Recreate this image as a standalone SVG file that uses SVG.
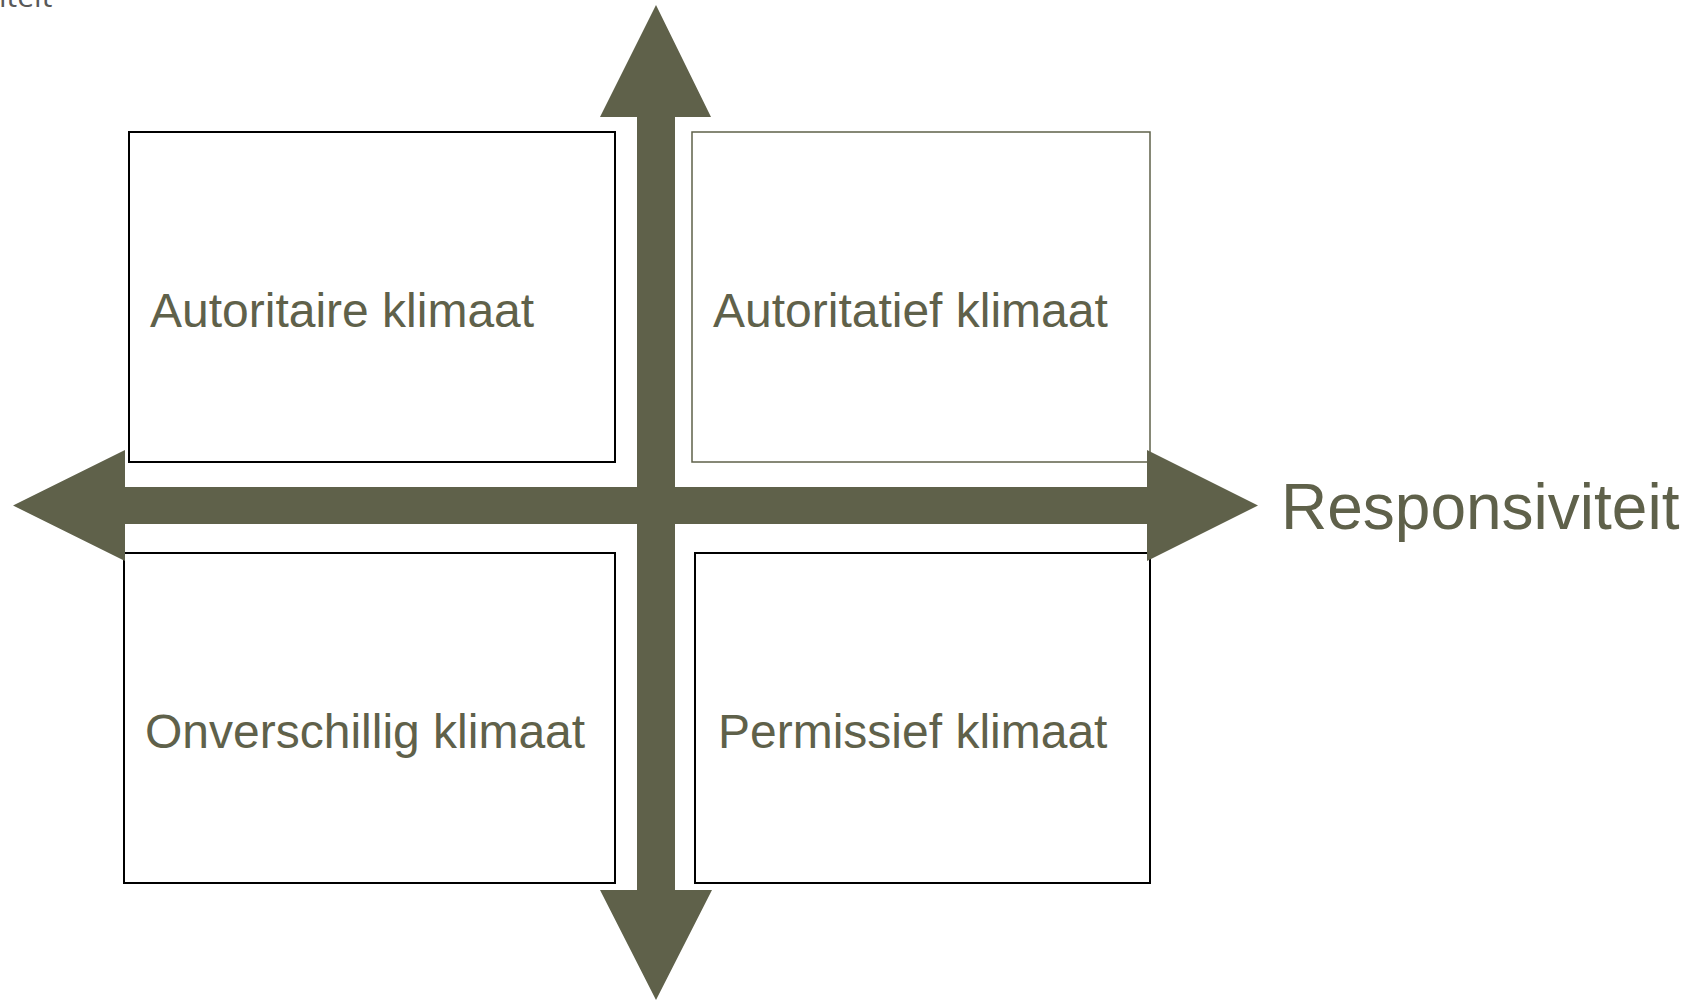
<svg xmlns="http://www.w3.org/2000/svg" width="1693" height="1000" viewBox="0 0 1693 1000">
<style>
.box{fill:#ffffff;stroke:#000000;stroke-width:2}
.box2{fill:#ffffff;stroke:#5f614a;stroke-width:1.5}
.lbl{font-family:"Liberation Sans",Arial,sans-serif;font-size:48px;fill:#5f614a}
.axis{font-family:"Liberation Sans",Arial,sans-serif;font-size:64px;fill:#5f614a}
.arrow{fill:#5f614a}
</style>
<rect width="1693" height="1000" fill="#ffffff"/>
<text x="-1" y="7" font-family="'Open Sans',sans-serif" font-size="30" fill="#595959">iteit</text>
<g id="node-autoritair">
<rect class="box" x="129" y="132" width="486" height="330"/>
<text class="lbl" x="150" y="327">Autoritaire klimaat</text>
</g>
<g id="node-autoritatief">
<rect class="box2" x="692" y="132" width="458" height="330"/>
<text class="lbl" x="713" y="327">Autoritatief klimaat</text>
</g>
<g id="node-onverschillig">
<rect class="box" x="124" y="553" width="491" height="330"/>
<text class="lbl" x="145" y="748">Onverschillig klimaat</text>
</g>
<g id="node-permissief">
<rect class="box" x="695" y="553" width="455" height="330"/>
<text class="lbl" x="718" y="748">Permissief klimaat</text>
</g>
<g id="connectors">
<polygon class="arrow" points="13,505.5 125,450 125,487 1147,487 1147,450 1258,505.5 1147,561 1147,524 125,524 125,561"/>
<polygon class="arrow" points="656,5 711,117 675,117 675,890 712,890 656,1000 600,890 637,890 637,117 600,117"/>
</g>
<g id="axis-label">
<text class="axis" x="1281" y="529">Responsiviteit</text>
</g>
</svg>
